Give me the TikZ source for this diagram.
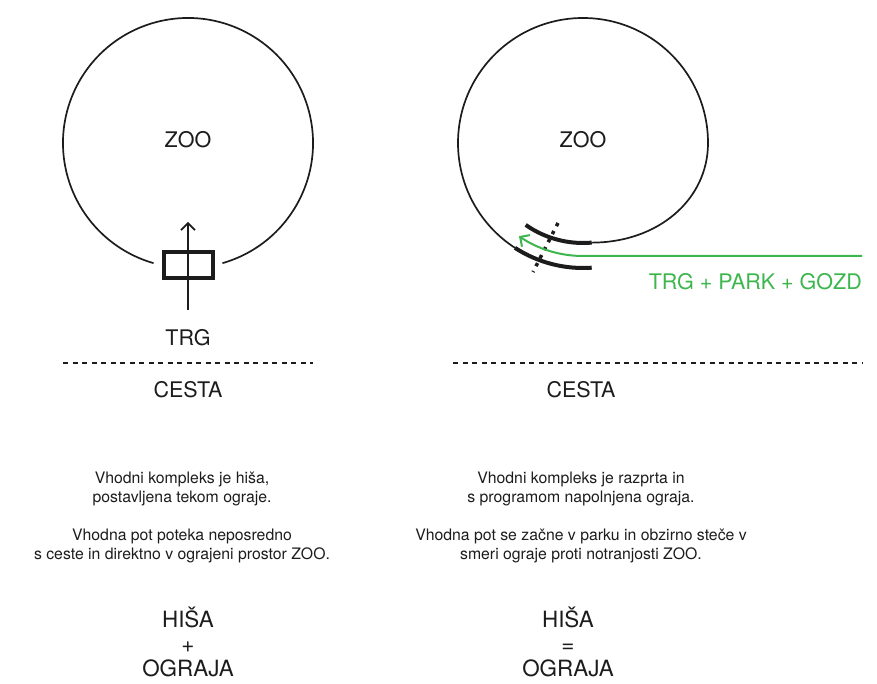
\documentclass[tikz,border=0pt]{standalone}
\usepackage{fontspec}
\setmainfont{TeX Gyre Heros}
\usepackage{xcolor}
\usepackage{tikz}
\usetikzlibrary{arrows.meta,positioning,calc}

\definecolor{ink}{RGB}{28,28,28}
\definecolor{parkgreen}{RGB}{62,182,78}

\begin{document}
\begin{tikzpicture}[
    x=1pt, y=1pt,
    every node/.style={text=ink},
    fence/.style={draw=ink, line width=1.7pt},
    heavyfence/.style={draw=ink, line width=4pt},
    lbl/.style={font=\fontsize{21.5}{24}\selectfont},
    para/.style={align=center, font=\fontsize{15.8}{18.6}\selectfont},
    eqn/.style={align=center, font=\fontsize{22.4}{24.6}\selectfont},
    road/.style={draw=ink, line width=1.3pt, dash pattern=on 5pt off 4.5pt},
    house/.style={draw=ink, line width=4pt, minimum width=49pt, minimum height=26pt, inner sep=0pt},
    entry/.style={draw=ink, line width=1.6pt, -{Straight Barb[length=7pt, width=14pt, line width=1.6pt]}},
    route/.style={draw=parkgreen, line width=2pt, -{Straight Barb[length=7pt, width=14pt, line width=2pt]}},
    cut/.style={draw=ink, line width=3.5pt, dash pattern=on 3.5pt off 5.5pt}
  ]
    \useasboundingbox (0,0) rectangle (877,683);

    % left: house + fence
    \coordinate (zooL) at (188,540);
    \draw[fence] (zooL) ++(-74:125) arc[start angle=-74, end angle=254, radius=125];
    \node[lbl] (zooLtxt) at (188,543) {ZOO};
    \node[house] (hisa) at (188,417.5) {};
    \coordinate (trgIn) at (188,373);
    \coordinate (trgTip) at (188,461);
    \draw[entry] (trgIn) -- (trgTip);
    \node[lbl] (trg) at (188,345) {TRG};
    \coordinate (roadLa) at (63,320);
    \coordinate (roadLb) at (313,320);
    \draw[road] (roadLa) -- (roadLb);
    \node[lbl] (cestaL) at (188,293) {CESTA};

    % right: fence opened into entrance
    \coordinate (zooR) at (583,540);
    \draw[fence] (zooR) ++(0:125) arc[start angle=0, end angle=237, radius=125];
    \draw[heavyfence] (zooR) ++(237:125) arc[start angle=237, end angle=274, radius=125];
    \draw[fence] (zooR) ++(0:125) .. controls +(0,-57) and +(66,0) .. ($(zooR)+(275:100)$);
    \draw[heavyfence] (zooR) ++(275:100) arc[start angle=275, end angle=235, radius=100];
    \coordinate (cutA) at (558,460);
    \coordinate (cutB) at (533,411);
    \draw[cut] (cutA) -- (cutB);
    \node[lbl] (zooRtxt) at (583,543) {ZOO};
    \coordinate (parkStart) at (862,427);
    \draw[route] (parkStart) -- (583,427) arc[start angle=270, end angle=235.5, radius=113];
    \node[lbl, text=parkgreen, anchor=east, inner sep=0pt] (mix) at (862,401) {TRG + PARK + GOZD};
    \coordinate (roadRa) at (453,320);
    \coordinate (roadRb) at (862,320);
    \draw[road] (roadRa) -- (roadRb);
    \node[lbl] (cestaR) at (581,293) {CESTA};

    % descriptions
    \node[para] (descLa) at (182,194) {Vhodni kompleks je hiša,\\postavljena tekom ograje.};
    \node[para] (descLb) at (182,137) {Vhodna pot poteka neposredno\\s ceste in direktno v ograjeni prostor ZOO.};
    \node[para] (descRa) at (581,194) {Vhodni kompleks je razprta in\\s programom napolnjena ograja.};
    \node[para] (descRb) at (581,137) {Vhodna pot se začne v parku in obzirno steče v\\smeri ograje proti notranjosti ZOO.};

    % formulas
    \node[eqn] (sumL) at (188,41) {HIŠA\\+\\OGRAJA};
    \node[eqn] (sumR) at (568,41) {HIŠA\\=\\OGRAJA};
  \end{tikzpicture}
\end{document}
